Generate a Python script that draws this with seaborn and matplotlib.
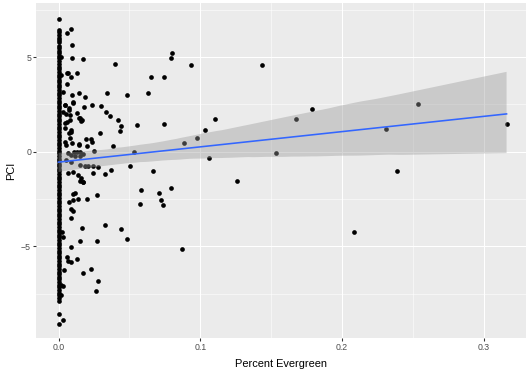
import matplotlib
matplotlib.use("Agg")
import matplotlib.pyplot as plt
import numpy as np
import pandas as pd
import seaborn as sns

# Sites with no evergreen cover (Percent Evergreen == 0)
zero_pci = [7.02, 6.44, 6.31, 6.18, 6.02, 5.91, 5.77, 5.6, 5.49, 5.33, 5.2, 5.05,
            4.93, 4.79, 4.62, 4.5, 4.36, 4.21, 4.07, 3.94, 3.8, 3.66, 3.52, 3.41,
            3.27, 3.12, 2.98, 2.84, 2.69, 2.57, 2.43, 2.3, 2.14, 2.01, 1.87, 1.72,
            1.6, 1.45, 1.31, 1.18, 1.03, 0.88, 0.76, 0.61, 0.47, 0.33, 0.18, 0.05,
            -0.08, -0.22, -0.37, -0.49, -0.63, -0.78, -0.9, -1.04, -1.19, -1.33,
            -1.46, -1.6, -1.74, -1.88, -2.03, -2.16, -2.31, -2.44, -2.58, -2.73,
            -2.86, -3.0, -3.13, -3.28, -3.41, -3.55, -3.7, -3.83, -3.97, -4.11,
            -4.25, -4.38, -4.53, -4.66, -4.8, -4.94, -5.08, -5.22, -5.35, -5.5,
            -5.63, -5.77, -5.92, -6.05, -6.19, -6.33, -6.47, -6.6, -6.74, -6.89,
            -7.02, -7.16, -7.3, -7.44, -7.58, -7.72, -7.86, -9.1]

# Sites with some evergreen cover
evergreen = [0.0088, 0.0058, 0.0097, 0.0097, 0.0175, 0.0400, 0.0062, 0.0086,
             0.0128, 0.0093, 0.0147, 0.0187, 0.0342, 0.0480, 0.0046, 0.0104,
             0.0076, 0.0178, 0.0238, 0.0302, 0.0034, 0.0081, 0.0128, 0.0335,
             0.0363, 0.0152, 0.0166, 0.0058, 0.0420, 0.0434, 0.0441, 0.0086,
             0.0046, 0.0295, 0.0081, 0.0093, 0.0147, 0.0192, 0.0234, 0.0252,
             0.0382, 0.0111, 0.0130, 0.0150,
             0.0633, 0.0652, 0.0742, 0.0793, 0.0800, 0.0937, 0.1437, 0.0556,
             0.0742, 0.1101, 0.1031, 0.0979, 0.0887, 0.0532, 0.1059, 0.0504,
             0.0666, 0.1534, 0.1677, 0.1790, 0.2535, 0.2310, 0.3160, 0.2385,
             0.2084,
             0.0580, 0.0707, 0.0793, 0.0723, 0.0575, 0.0735, 0.1261, 0.0443,
             0.0480, 0.0873,
             0.0274, 0.0199, 0.0140, 0.0104, 0.0072, 0.0116, 0.0100, 0.0086,
             0.0104, 0.0086, 0.0168, 0.0330, 0.0152, 0.0274, 0.0023, 0.0034,
             0.0088, 0.0062, 0.0069, 0.0086, 0.0128, 0.0039, 0.0175, 0.0227,
             0.0281, 0.0267, 0.0016, 0.0030, 0.0016, 0.0006, 0.0030,
             0.0152, 0.0175,
             0.0020, 0.0065, 0.0060, 0.0020, 0.0034, 0.0102, 0.0044, 0.0072,
             0.0055, 0.0079, 0.0142, 0.0161, 0.0044, 0.0090, 0.0072, 0.0231,
             0.0048, 0.0055, 0.0142, 0.0199,
             0.0055, 0.0090, 0.0150, 0.0185, 0.0208, 0.0243, 0.0067, 0.0102,
             0.0138, 0.0161, 0.0173, 0.0067, 0.0090, 0.0114, 0.0150, 0.0173,
             0.0280, 0.0330, 0.0370, 0.0240]
pci = [6.48, 6.25, 5.64, 4.97, 4.90, 4.62, 4.16, 3.96,
       4.16, 3.00, 3.08, 2.87, 3.08, 3.00, 2.47, 2.59,
       2.29, 2.38, 2.48, 2.40, 2.11, 1.94, 2.03, 2.08,
       1.89, 1.80, 1.66, 1.55, 1.68, 1.08, 1.37, 1.06,
       1.24, 0.97, 0.71, 0.44, 0.41, 0.65, 0.50, 0.05,
       0.30, 0.00, 0.00, -0.02,
       3.08, 3.96, 3.96, 4.95, 5.21, 4.60, 4.56, 1.39,
       1.48, 1.73, 1.16, 0.74, 0.44, 0.00, -0.35, -0.74,
       -1.00, -0.09, 1.73, 2.26, 2.52, 1.20, 1.48, -1.00,
       -4.23,
       -2.00, -2.18, -1.92, -2.54, -2.78, -2.83, -1.57, -4.08,
       -4.61, -5.14,
       -2.29, -2.48, -2.48, -2.55, -2.67, -2.20, -2.23, -3.03,
       -3.12, -3.49, -4.01, -3.87, -4.70, -4.73, -4.22, -4.49,
       -5.02, -5.58, -5.76, -5.85, -5.68, -6.25, -6.39, -6.21,
       -6.83, -7.34, -7.04, -7.09, -7.57, -8.57, -8.89,
       -1.55, -1.58,
       5.02, 4.17, 3.58, 4.05, 3.14, 2.61, 2.47, 2.20,
       1.98, 1.67, 1.76, 1.62, 1.50, 1.15, 0.97, 0.65,
       0.53, 0.35, 0.35, 0.30,
       -0.44, -0.53, -0.70, -0.74, -0.76, -0.74, -1.14, -1.06,
       -1.23, -1.40, -1.58, -0.09, -0.17, -0.23, -0.21, -0.14,
       -0.80, -1.20, -0.95, -1.10]

x_ticks = [0.0, 0.1, 0.2, 0.3]
y_ticks = [-5, 0, 5]

df = pd.DataFrame({
    "evergreen": [0.0] * len(zero_pci) + evergreen,
    "pci": zero_pci + pci,
})

plt.rcParams["font.family"] = ["Liberation Sans", "DejaVu Sans"]

fig = plt.figure(figsize=(526 / 72, 379 / 72), dpi=72)
ax = fig.add_axes([36 / 526, 41 / 379, 490 / 526, 335 / 379])
ax.set_facecolor("#EBEBEB")
for s in ax.spines.values():
    s.set_visible(False)

sns.regplot(data=df, x="evergreen", y="pci", ax=ax, ci=95, n_boot=1000, seed=7,
            scatter_kws=dict(s=22, color="black", linewidths=0, alpha=1),
            line_kws=dict(color="#3366FF", lw=1.6))
# grey confidence band in the ggplot style
band = ax.collections[-1]
band.set_alpha(None)
band.set_facecolor((0.6, 0.6, 0.6, 0.4))
band.set_edgecolor("none")

ax.set_xlim(-0.01587, 0.3297)
ax.set_ylim(-9.84, 7.855)
ax.set_xticks(x_ticks)
ax.set_xticklabels([f"{v:.1f}" for v in x_ticks])
ax.set_yticks(y_ticks)
ax.set_xticks([0.05, 0.15, 0.25], minor=True)
ax.set_yticks([-7.5, -2.5, 2.5, 7.5], minor=True)
ax.set_axisbelow(True)
ax.grid(which="major", color="white", lw=1.07)
ax.grid(which="minor", color="white", lw=0.53)
ax.tick_params(which="minor", length=0)
ax.tick_params(which="major", length=2.75, width=1.07, color="#333333",
               labelcolor="#4D4D4D", labelsize=8.8, pad=2.2)
ax.set_xlabel("Percent Evergreen", fontsize=11, color="black", labelpad=7)
ax.set_ylabel("PCI", fontsize=11, color="black", labelpad=5)

fig.savefig("out.png", dpi=72)
